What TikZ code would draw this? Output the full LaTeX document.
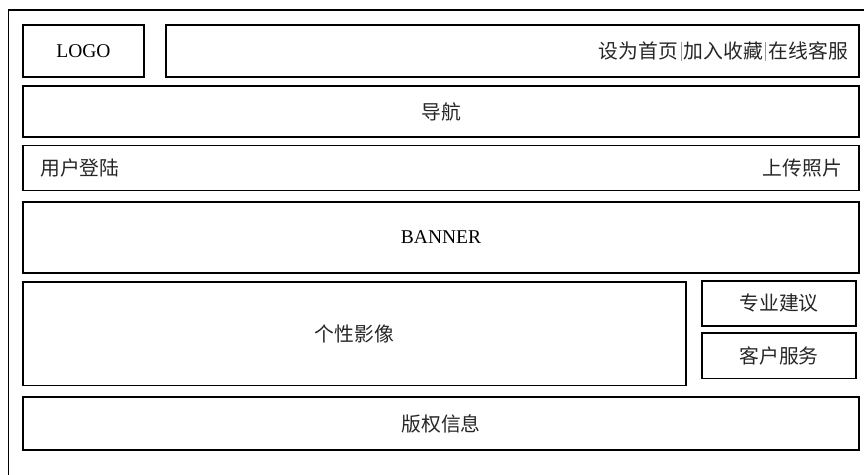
\documentclass[tikz,border=0pt]{standalone}
\usepackage{fontspec}
\setmainfont{Liberation Serif}
\newfontfamily\cjk{Noto Sans CJK SC}
\newcommand{\linksep}{\hspace{2.5pt}\textcolor{black!40}{\rule[-0.12em]{0.7pt}{0.95em}}\hspace{2.5pt}}
\begin{document}
\begin{tikzpicture}[x=1pt,y=-1pt,
  box/.style={draw, line width=1.3pt, inner sep=0pt, outer sep=0pt},
  lab/.style={font=\cjk\fontsize{19.8}{19.8}\selectfont, text=black!85, inner sep=0pt},
  latin/.style={font=\fontsize{19.5}{19.5}\selectfont, text=black}]
\useasboundingbox (0,0) rectangle (864,474);
\clip (0,0) rectangle (864,474);
\draw[line width=1.3pt] (8.5,10) rectangle (900,520);
% boxes
\node[box, latin, minimum width=121, minimum height=52] (logo) at (83.5,51) {LOGO};
\node[box, minimum width=693, minimum height=52] (top) at (512.5,51) {};
\node[box, lab, minimum width=836, minimum height=51] (nav) at (441,111.5) {导航};
\node[box, minimum width=836, minimum height=45] (user) at (441,168) {};
\node[box, latin, minimum width=836, minimum height=71] (banner) at (441,237.5) {BANNER};
\node[box, lab, minimum width=663, minimum height=103.5] (img) at (354.5,333.75) {个性影像};
\node[box, lab, minimum width=154, minimum height=45] (adv) at (779,303.5) {专业建议};
\node[box, lab, minimum width=154, minimum height=45.5] (svc) at (779,355.75) {客户服务};
\node[box, lab, minimum width=836, minimum height=53] (copy) at (441,423.5) {版权信息};
% side texts
\node[lab, anchor=east] (links) at ([xshift=-11]top.east)
  {设为首页\linksep 加入收藏\linksep 在线客服};
\node[lab, anchor=west] (login) at ([xshift=17]user.west) {用户登陆};
\node[lab, anchor=east] (upload) at ([xshift=-17]user.east) {上传照片};
\end{tikzpicture}
\end{document}
